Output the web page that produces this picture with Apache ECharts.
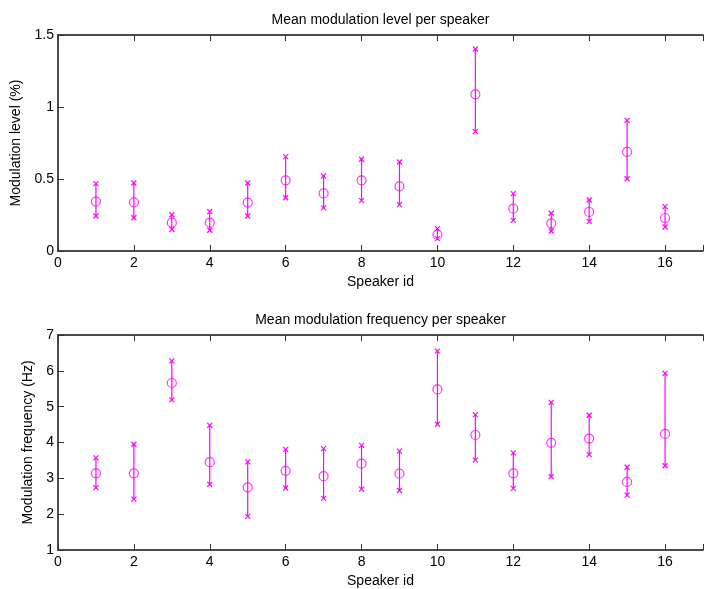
<!DOCTYPE html>
<html><head><meta charset="utf-8">
<script src="https://cdn.jsdelivr.net/npm/echarts@6/dist/echarts.min.js"></script>
<style>html,body{margin:0;padding:0;background:#fff}#c{width:706px;height:589px}</style>
</head><body><div id="c"></div>
<script>
const speakers = [1,2,3,4,5,6,7,8,9,10,11,12,13,14,15,16];
const levelMean = [0.343,0.338,0.197,0.197,0.336,0.491,0.400,0.491,0.449,0.113,1.088,0.294,0.192,0.271,0.688,0.229];
const levelHigh = [0.468,0.472,0.252,0.273,0.472,0.655,0.521,0.637,0.618,0.155,1.403,0.398,0.262,0.354,0.907,0.308];
const levelLow  = [0.243,0.231,0.150,0.144,0.243,0.370,0.299,0.350,0.322,0.086,0.829,0.213,0.139,0.206,0.502,0.167];
const freqMean = [3.14,3.14,5.66,3.45,2.75,3.21,3.06,3.41,3.13,5.48,4.21,3.14,3.99,4.11,2.90,4.24];
const freqHigh = [3.57,3.95,6.28,4.48,3.46,3.81,3.83,3.92,3.76,6.55,4.78,3.71,5.12,4.76,3.31,5.93];
const freqLow  = [2.74,2.42,5.19,2.83,1.94,2.73,2.44,2.70,2.66,4.51,3.51,2.72,3.05,3.66,2.53,3.35];

const MAG = '#ff00ff';
const FONT = 'Liberation Sans, Arial, sans-serif';
const FS = 14;
const chart = echarts.init(document.getElementById('c'), null, {renderer:'canvas'});

function errItem(params, api){
  const x = api.value(0);
  const lo = api.coord([x, api.value(1)]);
  const hi = api.coord([x, api.value(2)]);
  const s = 2.5;
  const st = {stroke: MAG, lineWidth: 1.2};
  const cross = p => [
    {type:'line', shape:{x1:p[0]-s,y1:p[1]-s,x2:p[0]+s,y2:p[1]+s}, style:st},
    {type:'line', shape:{x1:p[0]-s,y1:p[1]+s,x2:p[0]+s,y2:p[1]-s}, style:st}
  ];
  return {type:'group', children:[
    {type:'line', shape:{x1:lo[0],y1:lo[1],x2:hi[0],y2:hi[1]}, style:{stroke:MAG, lineWidth:1.2}}
  ].concat(cross(lo), cross(hi))};
}

const axisLineStyle = {show:true, lineStyle:{color:'#111', width:1.5}};
const tickStyle = {show:true, inside:true, length:6, lineStyle:{color:'#333', width:1}};
const txt = {color:'#000', fontSize:FS, fontFamily:FONT};

function xAxes(gi, title){
  const base = {gridIndex:gi, type:'value', min:0, max:17, interval:2,
    axisLine:axisLineStyle, axisTick:tickStyle, splitLine:{show:false}};
  return [
    Object.assign({}, base, {position:'bottom',
      axisLabel:Object.assign({margin:5, formatter: v => v > 16 ? '' : String(v)}, txt),
      name:'Speaker id', nameLocation:'middle', nameGap:24, nameTextStyle:txt}),
    Object.assign({}, base, {position:'top', axisLabel:{show:false},
      name:title, nameLocation:'middle', nameGap:8, nameTextStyle:txt})
  ];
}

const option = {
  backgroundColor:'#fff',
  animation:false,
  grid:[
    {left:58, top:35, width:655, height:216},
    {left:58, top:335, width:655, height:216}
  ],
  xAxis: xAxes(0,'Mean modulation level per speaker').concat(xAxes(1,'Mean modulation frequency per speaker')),
  yAxis:[
    {gridIndex:0, type:'value', min:0, max:1.5, interval:0.5,
      axisLine:axisLineStyle, axisTick:tickStyle, splitLine:{show:false},
      axisLabel:Object.assign({margin:4}, txt),
      name:'Modulation level (%)', nameLocation:'middle', nameGap:31, nameTextStyle:txt},
    {gridIndex:1, type:'value', min:1, max:7, interval:1,
      axisLine:axisLineStyle, axisTick:tickStyle, splitLine:{show:false},
      axisLabel:Object.assign({margin:4}, txt),
      name:'Modulation frequency (Hz)', nameLocation:'middle', nameGap:19, nameTextStyle:txt}
  ],
  series:[
    {type:'custom', xAxisIndex:0, yAxisIndex:0, renderItem:errItem,
      data: speakers.map((s,i)=>[s, levelLow[i], levelHigh[i]]), silent:true},
    {type:'scatter', xAxisIndex:0, yAxisIndex:0, symbol:'circle', symbolSize:9,
      itemStyle:{color:'rgba(0,0,0,0)', borderColor:MAG, borderWidth:1.2},
      data: speakers.map((s,i)=>[s, levelMean[i]]), silent:true},
    {type:'custom', xAxisIndex:2, yAxisIndex:1, renderItem:errItem,
      data: speakers.map((s,i)=>[s, freqLow[i], freqHigh[i]]), silent:true},
    {type:'scatter', xAxisIndex:2, yAxisIndex:1, symbol:'circle', symbolSize:9,
      itemStyle:{color:'rgba(0,0,0,0)', borderColor:MAG, borderWidth:1.2},
      data: speakers.map((s,i)=>[s, freqMean[i]]), silent:true}
  ]
};
chart.setOption(option);
</script></body></html>
